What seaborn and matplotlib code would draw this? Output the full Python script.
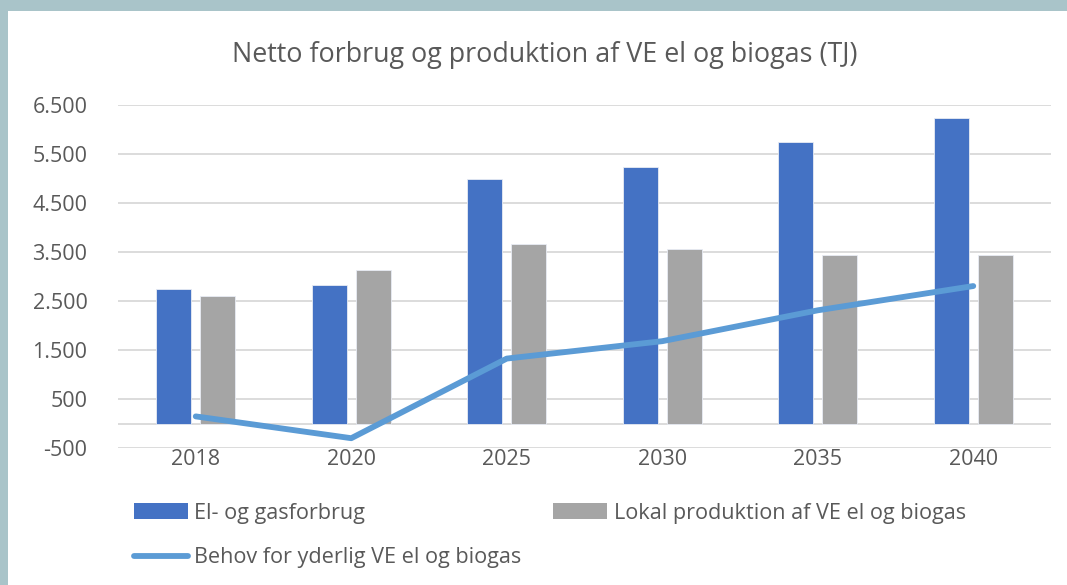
import numpy as np
import pandas as pd
import matplotlib
matplotlib.use("Agg")
import matplotlib.pyplot as plt
import seaborn as sns
from matplotlib.patches import Rectangle, Patch
from matplotlib.lines import Line2D
from matplotlib.ticker import FuncFormatter

# data (TJ)
years = ["2018", "2020", "2025", "2030", "2035", "2040"]
forbrug = [2740, 2830, 4980, 5235, 5740, 6235]
produktion = [2595, 3130, 3655, 3555, 3430, 3430]
behov = [145, -300, 1325, 1680, 2310, 2805]

lbl_forbrug = "El- og gasforbrug"
lbl_prod = "Lokal produktion af VE el og biogas"
lbl_behov = "Behov for yderlig VE el og biogas"
title = "Netto forbrug og produktion af VE el og biogas (TJ)"

c_blue = "#4472C4"
c_grey = "#A5A5A5"
c_line = "#5B9BD5"
c_text = "#595959"
c_grid = "#D9D9D9"

sns.set_theme(style="white")
plt.rcParams['font.family'] = ['Open Sans', 'DejaVu Sans']

df = pd.DataFrame({
    "year": years * 2,
    "value": forbrug + produktion,
    "serie": [lbl_forbrug] * len(years) + [lbl_prod] * len(years),
})

fig = plt.figure(figsize=(10.67, 5.85), dpi=100)
fig.patch.set_facecolor("#A9C4C9")
# white chart area inside the blue-grey frame
fig.patches.append(Rectangle((8 / 1067, 0), 1, 1 - 11 / 585, transform=fig.transFigure,
                             facecolor="white", edgecolor="none", zorder=-10))

ax = fig.add_axes([118 / 1067, 1 - 448 / 585, (1051 - 118) / 1067, (448 - 105) / 585])
ax.set_zorder(2)
ax.set_facecolor("none")

sns.barplot(data=df, x="year", y="value", hue="serie", order=years,
            palette=[c_blue, c_grey], width=0.566, gap=0.2, ax=ax,
            legend=False, zorder=3, saturation=1, edgecolor="#E8ECF4", linewidth=0.6)
sns.lineplot(x=years, y=behov, color=c_line, linewidth=4.2, sort=False, ax=ax,
             zorder=4, solid_capstyle="round")

ax.set_ylim(-500, 6500)
ax.set_xlim(-0.5, len(years) - 0.5)
ax.set_yticks(np.arange(-500, 7000, 1000))
ax.yaxis.set_major_formatter(FuncFormatter(lambda v, p: f"{v:,.0f}".replace(",", ".")))
ax.grid(axis="y", color=c_grid, linewidth=1.3, zorder=0)
ax.axhline(0, color=c_grid, linewidth=1.3, zorder=1)
ax.set_axisbelow(True)
for s in ax.spines.values():
    s.set_visible(False)
ax.set_xlabel("")
ax.set_ylabel("")
ax.tick_params(axis="y", length=0, pad=22, labelsize=15.5, labelcolor=c_text)
ax.tick_params(axis="x", length=0, pad=1, labelsize=15.5, labelcolor=c_text)

fig.text(545 / 1067, 1 - 55 / 585, title, ha="center", va="center",
         fontsize=19.4, color=c_text)

handles = [
    Patch(facecolor=c_blue, edgecolor="none", label=lbl_forbrug),
    Line2D([0], [0], color=c_line, linewidth=4.2, solid_capstyle="round", label=lbl_behov),
    Patch(facecolor=c_grey, edgecolor="none", label=lbl_prod),
]
fig.legend(handles=handles, ncol=2, loc="upper left",
           bbox_to_anchor=(125 / 1067, 1 - 494 / 585), frameon=False,
           fontsize=15.6, labelcolor=c_text, handlelength=2.5, handletextpad=0.3,
           columnspacing=1.45, labelspacing=1.1, borderaxespad=0)

fig.savefig("out.png", dpi=100, facecolor=fig.get_facecolor())
